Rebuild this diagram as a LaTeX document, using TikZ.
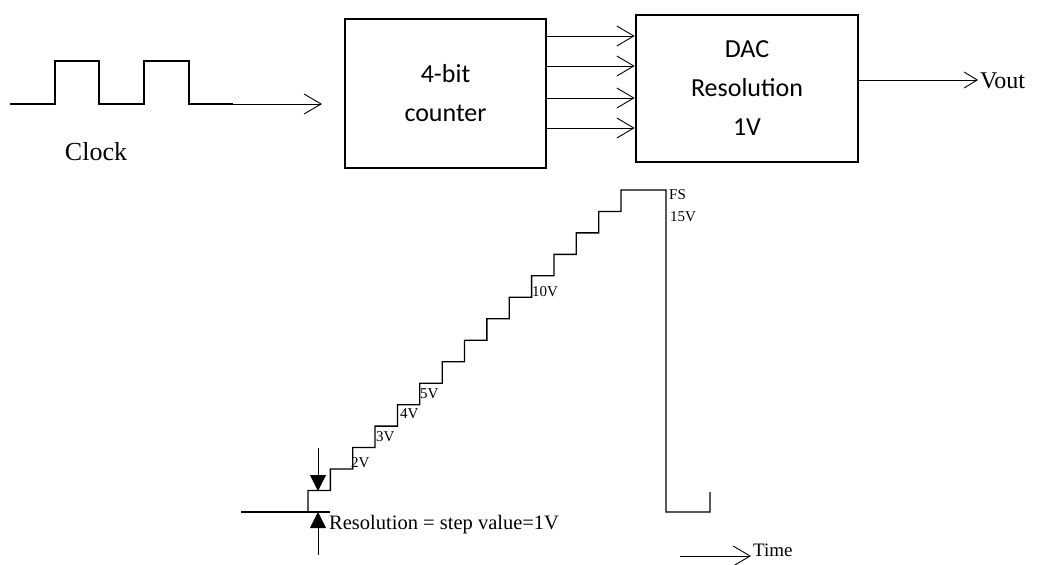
\documentclass[tikz,border=0pt]{standalone}
\usepackage{fontspec}
\setmainfont{Liberation Serif}
\newfontfamily\calibrifont{Carlito}
\usetikzlibrary{arrows.meta}
\tikzset{
  blockbox/.style={draw, line width=2.6pt, inner sep=0pt, font=\calibrifont\fontsize{26}{39}\selectfont, align=center},
  wave/.style={line width=1.3pt},
  openarrow/.style={line width=0.9pt, -{Straight Barb[length=17pt,width=20pt,line width=0.9pt]}},
  smallopen/.style={line width=0.9pt, -{Straight Barb[length=13pt,width=16pt,line width=0.9pt]}},
  filledarrow/.style={line width=1pt, -{Triangle[length=16pt,width=16pt]}},
  lbl/.style={inner sep=0pt, anchor=west, font=\fontsize{15}{18}\selectfont},
}
\begin{document}
\begin{tikzpicture}[x=1pt,y=-1pt]
\useasboundingbox (0,0) rectangle (1037,565);
% boxes
\node[blockbox, minimum width=201pt, minimum height=149pt] (counter) at (445.5,93.5) {4-bit\\counter};
\node[blockbox, minimum width=222pt, minimum height=147pt] (dac) at (747,88.5) {DAC\\Resolution\\1V};
% clock waveform
\coordinate (c0) at (10,104);
\coordinate (c1) at (233,104);
\coordinate (cend) at (322,104);
\draw[wave] (c0) -- (55,104) -- (55,61) -- (99,61) -- (99,104) -- (144,104) -- (144,61) -- (189,61) -- (189,104) -- (c1);
\draw[openarrow] (c1) -- (cend);
\node[font=\fontsize{26}{30}\selectfont, inner sep=0pt] (clock) at (96,152) {Clock};
% counter to dac
\foreach \yy in {36,66,98,128}{
  \draw[openarrow] (counter.east |- 0,\yy) -- (dac.west |- 0,\yy);
}
% vout
\coordinate (voutend) at (978,80);
\draw[smallopen] (dac.east |- 0,80) -- (voutend);
\node[font=\fontsize{24}{28}\selectfont, inner sep=0pt, anchor=west] (vout) at (980,81) {Vout};
% staircase
\coordinate (b0) at (241,512);
\coordinate (b1) at (330,512);
\draw[wave] (b0) -- (b1);
\draw[wave] (308,512) \foreach \i in {1,...,14}{ -- ++(0,-21.47) -- ++(22.36,0)} -- ++(0,-21.47) -- (666,190) -- (666,512) -- (710,512) -- (710,492);
% labels
\node[lbl] (l2) at (351,463) {2V};
\node[lbl] (l3) at (376,437) {3V};
\node[lbl] (l4) at (400,414) {4V};
\node[lbl] (l5) at (420,394) {5V};
\node[lbl] (l10) at (532,292) {10V};
\node[lbl] (lfs) at (669,195) {FS};
\node[lbl] (l15) at (670,217) {15V};
% resolution arrows
\coordinate (da) at (318,448);
\coordinate (db) at (318,491);
\coordinate (ua) at (318,555);
\coordinate (ub) at (318,512);
\draw[filledarrow] (da) -- (db);
\draw[filledarrow] (ua) -- (ub);
\node[inner sep=0pt, anchor=west, font=\fontsize{20.5}{24}\selectfont] (res) at (329,525) {Resolution = step value=1V};
% time
\coordinate (t0) at (680,556);
\coordinate (t1) at (751,556);
\draw[openarrow] (t0) -- (t1);
\node[inner sep=0pt, anchor=west, font=\fontsize{19}{22}\selectfont] (time) at (753,550) {Time};
\end{tikzpicture}
\end{document}
